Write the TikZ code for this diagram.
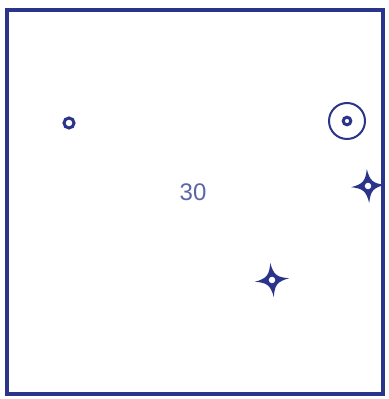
\documentclass[tikz,border=0pt]{standalone}
\usepackage{fontspec}
\setmainfont{Liberation Sans}
\definecolor{ink}{RGB}{42,52,138}
\definecolor{numink}{RGB}{92,102,165}
\begin{document}
\begin{tikzpicture}[x=0.5pt,y=-0.5pt,
  frame/.style={draw=ink,line width=2.2pt},
  ring/.style={circle,draw=ink,fill=white,line width=1.5pt,inner sep=0pt,minimum size=#1},
  halo/.style={circle,draw=ink,line width=1pt,inner sep=0pt,minimum size=18pt},
  label/.style={font=\fontsize{12}{14}\selectfont,text=numink,inner sep=0pt}]
  \useasboundingbox[fill=white] (0,0) rectangle (388,399);
  \draw[frame] (7,10) rectangle (383,394);
  % single ring
  \node[ring=5pt] (spot) at (69,123) {};
  % ringed spot
  \node[halo] (target) at (347,121) {};
  \node[ring=3.8pt] (targetc) at (target) {};
  % number
  \node[label] (num) at (193,192) {30};
  % four-pointed marks
  \coordinate (c1) at (368,186);
  \coordinate (c2) at (272,280);
  \foreach \c/\ang in {c1/4,c2/6}
    \fill[ink,shift={(\c)},rotate=\ang] (0,-17) .. controls (2.2,-5) and (5,-2.2) .. (17,0)
      .. controls (5,2.2) and (2.2,5) .. (0,17) .. controls (-2.2,5) and (-5,2.2) .. (-17,0)
      .. controls (-5,-2.2) and (-2.2,-5) .. cycle;
  \node[ring=5pt] (mark1) at (c1) {};
  \node[ring=5pt] (mark2) at (c2) {};
\end{tikzpicture}
\end{document}
